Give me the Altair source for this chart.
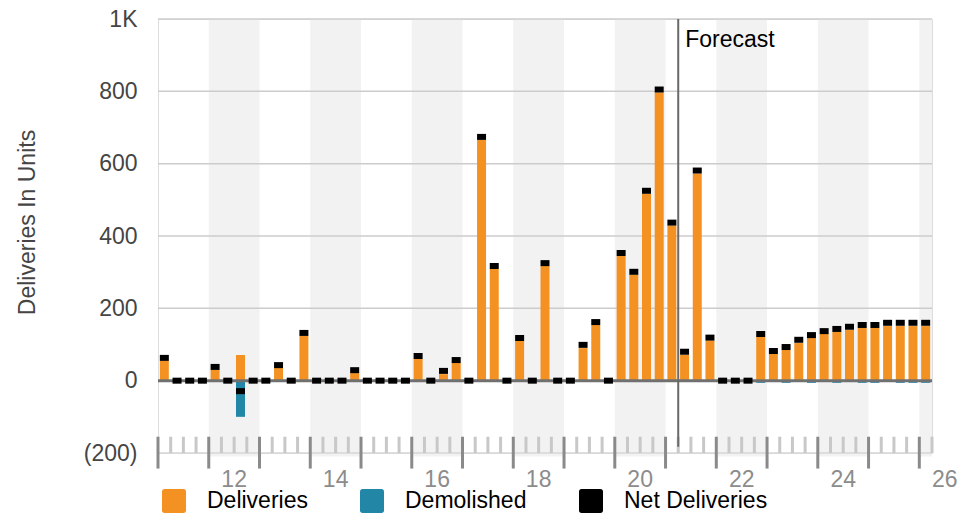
import altair as alt
import pandas as pd

# ---------------- data ----------------
quarters = [f"{y} Q{q}" for y in range(2011, 2027) for q in (1, 2, 3, 4)][:61]

deliveries = [
    55, 0, 0, 0,
    30, 0, 71, 0,
    0, 35, 0, 124,
    0, 0, 0, 21,
    0, 0, 0, 0,
    60, 0, 18, 49,
    0, 666, 309, 0,
    110, 0, 317, 0,
    0, 90, 154, 0,
    345, 293, 517, 797,
    429, 72, 573, 111,
    0, 0, 0, 121,
    74, 85, 104, 118,
    129, 135, 140, 146,
    146, 151, 151, 151,
    151,
]
demolished = [
    0, 0, 0, 0,
    0, 0, -100, 0,
    0, 0, 0, 0,
    0, 0, 0, 0,
    0, 0, 0, 0,
    0, 0, 0, 0,
    0, 0, 0, 0,
    0, 0, 0, 0,
    0, 0, 0, 0,
    0, 0, 0, 0,
    0, 0, 0, 0,
    0, 0, 0, -6,
    0, -6, 0, -6,
    0, -6, 0, -6,
    -6, 0, -6, -6,
    -6,
]
net_deliveries = [
    63, 0, 0, 0,
    38, 0, -29, 0,
    0, 43, 0, 132,
    0, 0, 0, 29,
    0, 0, 0, 0,
    68, 0, 27, 57,
    0, 674, 317, 0,
    118, 0, 325, 0,
    0, 99, 162, 0,
    353, 301, 525, 805,
    437, 80, 581, 119,
    0, 0, 0, 129,
    82, 93, 113, 126,
    137, 143, 149, 154,
    154, 160, 160, 160,
    160,
]
forecast_start = "2021 Q2"
series_names = ["Deliveries", "Demolished", "Net Deliveries"]
series_colors = ["#F39222", "#2287A7", "#000000"]
year_labels = ["12", "14", "16", "18", "20", "22", "24", "26"]
y_ticks = [-200, 0, 200, 400, 600, 800, 1000]
grid_values = [200, 400, 600, 800, 1000]

FONT = "Liberation Sans"

# ---------------- derived tables ----------------
def qpos(label):
    y, q = int(label[:4]), int(label[-1])
    return y + (q - 0.5) / 4

def qstart(label):
    y, q = int(label[:4]), int(label[-1])
    return y + (q - 1) / 4

xs = [qpos(q) for q in quarters]
x_start = qstart(quarters[0])
x_end = qstart(quarters[-1]) + 0.25

bars = pd.DataFrame(
    {"x": xs * 2,
     "value": deliveries + demolished,
     "base": [0] * (2 * len(xs)),
     "series": ["Deliveries"] * len(xs) + ["Demolished"] * len(xs)}
)
bars = bars[bars["value"] != 0]
net = pd.DataFrame({"x": xs, "value": net_deliveries, "series": "Net Deliveries"})

years = list(range(int(x_start), int(x_end) + 1))
bands = pd.DataFrame(
    [{"x0": y, "x1": min(y + 1, x_end), "top": 1000, "bottom": -210}
     for y in years if y % 2 == 0]
)
labels = pd.DataFrame({"x": [2000 + int(l) + 0.5 for l in year_labels], "label": year_labels, "y": -200})
n_q = len(quarters)
boundaries = [x_start + i / 4 for i in range(n_q + 1)]
minor = pd.DataFrame({"x": [b for b in boundaries if b % 1 != 0], "t": -155, "b": -200})
major = pd.DataFrame({"x": [b for b in boundaries if b % 1 == 0], "t": -155, "b": -243})
grid = pd.DataFrame({"v": grid_values})
fc = pd.DataFrame({"x": [qstart(forecast_start)], "t": [1000], "b": [-183], "ty": [943], "txt": ["Forecast"]})

xs_ = alt.Scale(domain=[x_start, x_end], nice=False, zero=False, padding=0)
ys_ = alt.Scale(domain=[-200, 1000], nice=False, zero=False, padding=0)
color_scale = alt.Scale(domain=series_names, range=series_colors)

rounded = "M-0.78,-1H0.78Q1,-1,1,-0.78V0.78Q1,1,0.78,1H-0.78Q-1,1,-1,0.78V-0.78Q-1,-1,-0.78,-1Z"
legend = alt.Legend(
    orient="none", legendX=4, legendY=470, direction="horizontal", title=None,
    labelFont=FONT, labelFontSize=23, labelColor="#000000", labelOffset=21,
    symbolType=rounded, symbolSize=576, symbolStrokeWidth=0, symbolOpacity=1,
    columnPadding=52, padding=0,
)

y_axis = alt.Axis(
    values=y_ticks,
    labelExpr="datum.value >= 1000 ? format(datum.value / 1000, 'd') + 'K' : "
              "(datum.value < 0 ? '(' + format(-datum.value, 'd') + ')' : format(datum.value, 'd'))",
    labelFont=FONT, labelFontSize=23, labelColor="#454545", labelPadding=21,
    labelFlush=False, labelOverlap=False,
    ticks=False, domain=False, grid=False,
    title="Deliveries In Units", titleFont=FONT, titleFontSize=23, titleFontWeight="normal",
    titleColor="#454545", titleX=-131, titleY=203, titleAngle=270,
    titleAlign="center", titleBaseline="middle",
)


def Y(field):
    return alt.Y(field, scale=ys_, axis=y_axis)


def X(field):
    return alt.X(field, scale=xs_, axis=None)


band_layer = alt.Chart(bands).mark_rect(color="#f2f2f2").encode(
    x=X("x0:Q"), x2="x1:Q", y=Y("top:Q"), y2="bottom:Q",
)
grid_layer = alt.Chart(grid).mark_rule(color="#cccccc", strokeWidth=1.5).encode(y=Y("v:Q"))
base_layer = alt.Chart(pd.DataFrame({"v": [y_ticks[0]]})).mark_rule(
    color="#d6d6d6", strokeWidth=1.5).encode(y=Y("v:Q"))
minor_layer = alt.Chart(minor).mark_rule(color="#c8c8c8", strokeWidth=3).encode(
    x=X("x:Q"), y=Y("t:Q"), y2="b:Q",
)
major_layer = alt.Chart(major).mark_rule(color="#8a8a8a", strokeWidth=3).encode(
    x=X("x:Q"), y=Y("t:Q"), y2="b:Q",
)
bar_layer = alt.Chart(bars).mark_bar(size=9).encode(
    x=X("x:Q"), y=Y("value:Q"), y2="base:Q",
    color=alt.Color("series:N", scale=color_scale, legend=legend),
)
zero_layer = alt.Chart(pd.DataFrame({"v": [0]})).mark_rule(color="#707070", strokeWidth=3).encode(y=Y("v:Q"))
net_layer = alt.Chart(net).mark_bar(size=9, yOffset=-3, y2Offset=3).encode(
    x=X("x:Q"), y=Y("value:Q"), y2="value:Q",
    color=alt.Color("series:N", scale=color_scale, legend=legend),
)
fc_line = alt.Chart(fc).mark_rule(color="#6a6a6a", strokeWidth=2).encode(
    x=X("x:Q"), y=Y("t:Q"), y2="b:Q",
)
fc_text = alt.Chart(fc).mark_text(
    align="left", baseline="middle", dx=7, font=FONT, fontSize=23, color="#000000"
).encode(x=X("x:Q"), y=Y("ty:Q"), text="txt:N")
label_layer = alt.Chart(labels).mark_text(
    align="center", baseline="middle", dy=27, font=FONT, fontSize=23, color="#8c8c8c"
).encode(x=X("x:Q"), y=Y("y:Q"), text="label:N")

chart = alt.layer(
    band_layer, grid_layer, base_layer, minor_layer, major_layer,
    bar_layer, zero_layer, net_layer, fc_line, fc_text, label_layer,
).properties(
    width=774, height=434,
    autosize=alt.AutoSizeParams(type="none"),
    padding={"left": 150, "top": 11, "right": 30, "bottom": 60},
).configure_view(stroke=None).configure(background="white")

chart.save("out.html", embed_options={"renderer": "svg", "actions": False})
